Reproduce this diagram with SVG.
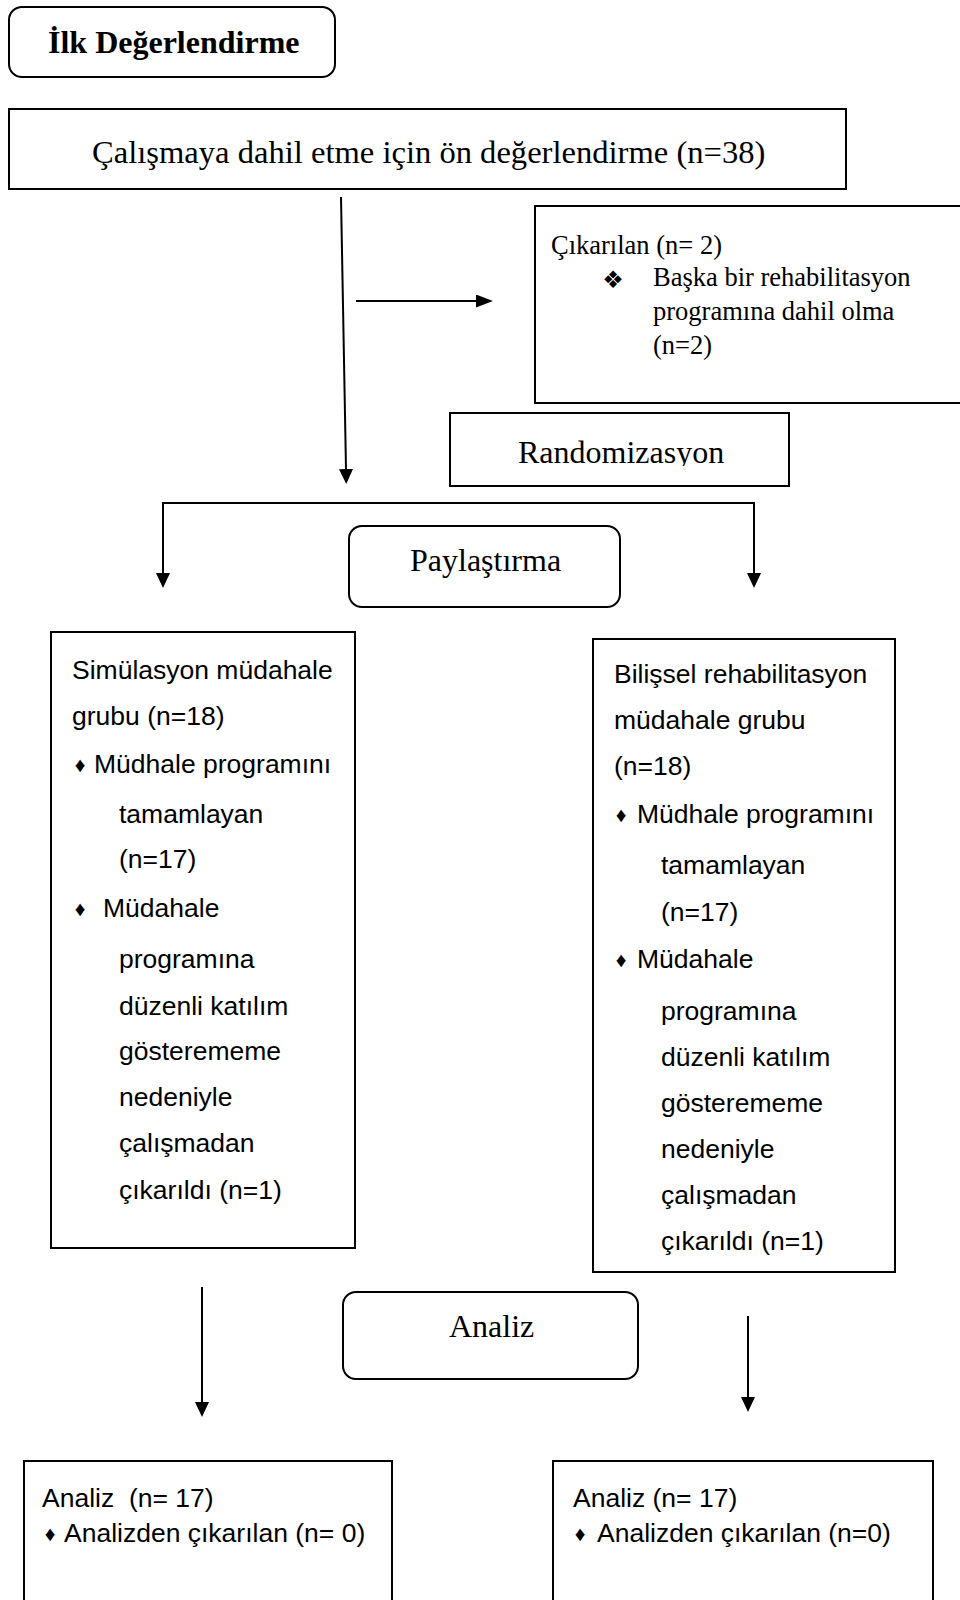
<svg xmlns="http://www.w3.org/2000/svg" width="960" height="1600" viewBox="0 0 960 1600">
<style>
.box{fill:#fff;stroke:#000;stroke-width:2}
.serif{font-family:"Liberation Serif","Times New Roman",serif;fill:#000}
.big{font-size:32px}
.mid{font-size:26.5px}
.sans{font-family:"Liberation Sans",Arial,sans-serif;font-size:26.5px;fill:#000}
.bul{font-family:"Liberation Sans","DejaVu Sans",sans-serif;font-size:21px;fill:#000;text-anchor:middle}
.conn{stroke:#000;stroke-width:2;fill:none}
</style>
<defs>
<marker id="ah" markerUnits="userSpaceOnUse" markerWidth="15" markerHeight="14" refX="0" refY="7" orient="auto">
<path d="M0,0 L15,7 L0,14 Z" fill="#000"/>
</marker>
<marker id="ahb" markerUnits="userSpaceOnUse" markerWidth="17" markerHeight="13" refX="0" refY="6.5" orient="auto">
<path d="M0,0 L17,6.5 L0,13 Z" fill="#000"/>
</marker>
<clipPath id="rclip"><rect x="450" y="413" width="340" height="53"/></clipPath>
</defs>
<rect width="960" height="1600" fill="#fff"/>

<g id="connectors">
<line class="conn" x1="341" y1="197" x2="346" y2="469" marker-end="url(#ah)"/>
<line class="conn" x1="356" y1="301" x2="476" y2="301" stroke-width="3" marker-end="url(#ahb)"/>
<line class="conn" x1="162" y1="503" x2="755" y2="503" stroke-width="3"/>
<line class="conn" x1="163" y1="503" x2="163" y2="573" marker-end="url(#ah)"/>
<line class="conn" x1="754" y1="503" x2="754" y2="573" marker-end="url(#ah)"/>
<line class="conn" x1="202" y1="1287" x2="202" y2="1402" marker-end="url(#ah)"/>
<line class="conn" x1="748" y1="1316" x2="748" y2="1397" marker-end="url(#ah)"/>
</g>

<g id="ilk">
<rect class="box" x="9" y="7" width="326" height="70" rx="13"/>
<text class="serif big" x="48" y="53" font-weight="bold">İlk Değerlendirme</text>
</g>

<g id="onDegerlendirme">
<rect class="box" x="9" y="109" width="837" height="80"/>
<text class="serif" x="92" y="163" font-size="32.6">Çalışmaya dahil etme için ön değerlendirme (n=38)</text>
</g>

<g id="cikarilan">
<rect class="box" x="535" y="206" width="440" height="197"/>
<text class="serif mid" x="551" y="254">Çıkarılan (n= 2)</text>
<text x="613" y="288" font-family="DejaVu Sans,sans-serif" font-size="24" text-anchor="middle">❖</text>
<text class="serif mid" x="653" y="286">Başka bir rehabilitasyon</text>
<text class="serif mid" x="653" y="320">programına dahil olma</text>
<text class="serif mid" x="653" y="354">(n=2)</text>
</g>

<g id="randomizasyon">
<rect class="box" x="450" y="413" width="339" height="73"/>
<text class="serif big" x="518" y="463" clip-path="url(#rclip)">Randomizasyon</text>
</g>

<g id="paylastirma">
<rect class="box" x="349" y="526" width="271" height="81" rx="13"/>
<text class="serif big" x="410" y="571">Paylaştırma</text>
</g>

<g id="simulasyon">
<rect class="box" x="51" y="632" width="304" height="616"/>
<text class="sans" x="72" y="679">Simülasyon müdahale</text>
<text class="sans" x="72" y="725">grubu (n=18)</text>
<text class="bul" x="80" y="772">♦</text>
<text class="sans" x="94" y="773">Müdhale programını</text>
<text class="sans" x="119" y="823">tamamlayan</text>
<text class="sans" x="119" y="868">(n=17)</text>
<text class="bul" x="80" y="916">♦</text>
<text class="sans" x="103" y="917">Müdahale</text>
<text class="sans" x="119" y="968">programına</text>
<text class="sans" x="119" y="1015">düzenli katılım</text>
<text class="sans" x="119" y="1060">gösterememe</text>
<text class="sans" x="119" y="1106">nedeniyle</text>
<text class="sans" x="119" y="1152">çalışmadan</text>
<text class="sans" x="119" y="1199">çıkarıldı (n=1)</text>
</g>

<g id="bilissel">
<rect class="box" x="593" y="639" width="302" height="633"/>
<text class="sans" x="614" y="683">Bilişsel rehabilitasyon</text>
<text class="sans" x="614" y="729">müdahale grubu</text>
<text class="sans" x="614" y="775">(n=18)</text>
<text class="bul" x="621" y="822">♦</text>
<text class="sans" x="637" y="823">Müdhale programını</text>
<text class="sans" x="661" y="874">tamamlayan</text>
<text class="sans" x="661" y="921">(n=17)</text>
<text class="bul" x="621" y="967">♦</text>
<text class="sans" x="637" y="968">Müdahale</text>
<text class="sans" x="661" y="1020">programına</text>
<text class="sans" x="661" y="1066">düzenli katılım</text>
<text class="sans" x="661" y="1112">gösterememe</text>
<text class="sans" x="661" y="1158">nedeniyle</text>
<text class="sans" x="661" y="1204">çalışmadan</text>
<text class="sans" x="661" y="1250">çıkarıldı (n=1)</text>
</g>

<g id="analiz">
<rect class="box" x="343" y="1292" width="295" height="87" rx="13"/>
<text class="serif big" x="449" y="1337">Analiz</text>
</g>

<g id="analizSol">
<rect class="box" x="24" y="1461" width="368" height="160"/>
<text class="sans" x="42" y="1507" xml:space="preserve">Analiz  (n= 17)</text>
<text class="bul" x="50" y="1541">♦</text>
<text class="sans" x="64" y="1542">Analizden çıkarılan (n= 0)</text>
</g>

<g id="analizSag">
<rect class="box" x="553" y="1461" width="380" height="160"/>
<text class="sans" x="573" y="1507">Analiz (n= 17)</text>
<text class="bul" x="580" y="1541">♦</text>
<text class="sans" x="597" y="1542">Analizden çıkarılan (n=0)</text>
</g>
</svg>
